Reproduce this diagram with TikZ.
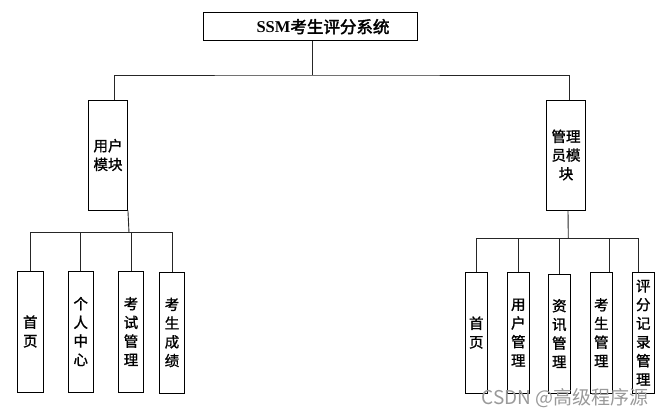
\documentclass[tikz,border=0pt]{standalone}
\usepackage{fontspec}
\setmainfont{Liberation Serif}
\newfontfamily\cjk{Noto Sans CJK SC}[AutoFakeBold=2.5]
\newfontfamily\cjkm{Noto Sans CJK SC}[FakeBold=1.2]
\begin{document}
\begin{tikzpicture}[x=1pt,y=-1pt,
  box/.style={draw=black,line width=0.9pt,fill=white,inner sep=0pt,align=center,
    font={\cjkm\fontsize{14.5}{18.7}\selectfont}},
  conn/.style={draw=black!85,line width=0.9pt}]
\useasboundingbox (0,0) rectangle (667,416);
% top
\node[box,minimum width=214pt,minimum height=28pt] (top) at (310,26.7)
  {\hspace*{26pt}\bfseries\fontsize{16.5}{18}\selectfont{\rmfamily SSM}{\cjk 考生评分系统}};
% second level
\node[box,minimum width=39pt,minimum height=110pt] (user) at (108,155) {用户\\模块};
\node[box,minimum width=39pt,minimum height=110pt] (admin) at (566,155) {管理\\员模\\块};
% left children
\node[box,minimum width=25.5pt,minimum height=121pt] (c1) at (30.3,331.5) {首\\页};
\node[box,minimum width=25.5pt,minimum height=121pt] (c2) at (80.7,331.5) {个\\人\\中\\心};
\node[box,minimum width=25.5pt,minimum height=121pt] (c3) at (131,331.5) {考\\试\\管\\理};
\node[box,minimum width=25.5pt,minimum height=121pt] (c4) at (172,332.5) {考\\生\\成\\绩};
% right children
\node[box,minimum width=22pt,minimum height=121pt] (d1) at (476.3,332.6) {首\\页};
\node[box,minimum width=22pt,minimum height=121pt] (d2) at (518.3,332.6) {用\\户\\管\\理};
\node[box,minimum width=22pt,minimum height=119pt] (d3) at (559.3,333.5) {资\\讯\\管\\理};
\node[box,minimum width=22pt,minimum height=121pt] (d4) at (601.3,332.6) {考\\生\\管\\理};
\node[box,minimum width=22pt,minimum height=121pt] (d5) at (643.3,332.6) {评\\分\\记\\录\\管\\理};
% bus coordinates
\coordinate (busTop) at (312.7,75);
\coordinate (busL) at (129,232.8);
\coordinate (busR) at (568.3,238.3);
% top level connectors
\draw[conn] (top.south -| busTop) -- (busTop);
\draw[conn] ([xshift=6pt]user.north) |- (busTop) -| ([xshift=3pt]admin.north);
% user module connectors
\draw[conn] (user.south east) -- (busL);
\draw[conn] (c1.north) |- (busL) -| (c4.north);
\draw[conn] (c2.north) -- (c2.north |- busL);
\draw[conn] (c3.north) -- (c3.north |- busL);
% admin module connectors
\draw[conn] ([xshift=2pt]admin.south) -- (busR);
\draw[conn] (d1.north) |- (busR) -| ([xshift=-4.6pt]d5.north);
\draw[conn] (d2.north) -- (d2.north |- busR);
\draw[conn] (d3.north) -- (d3.north |- busR);
\draw[conn] ([xshift=8pt]d4.north) -- ([xshift=8pt]d4.north |- busR);
% watermark
\node[font={\cjk\fontsize{19}{21}\selectfont},text=black!40,inner sep=0pt] (wm) at (565,398) {CSDN @高级程序源};
\end{tikzpicture}
\end{document}
